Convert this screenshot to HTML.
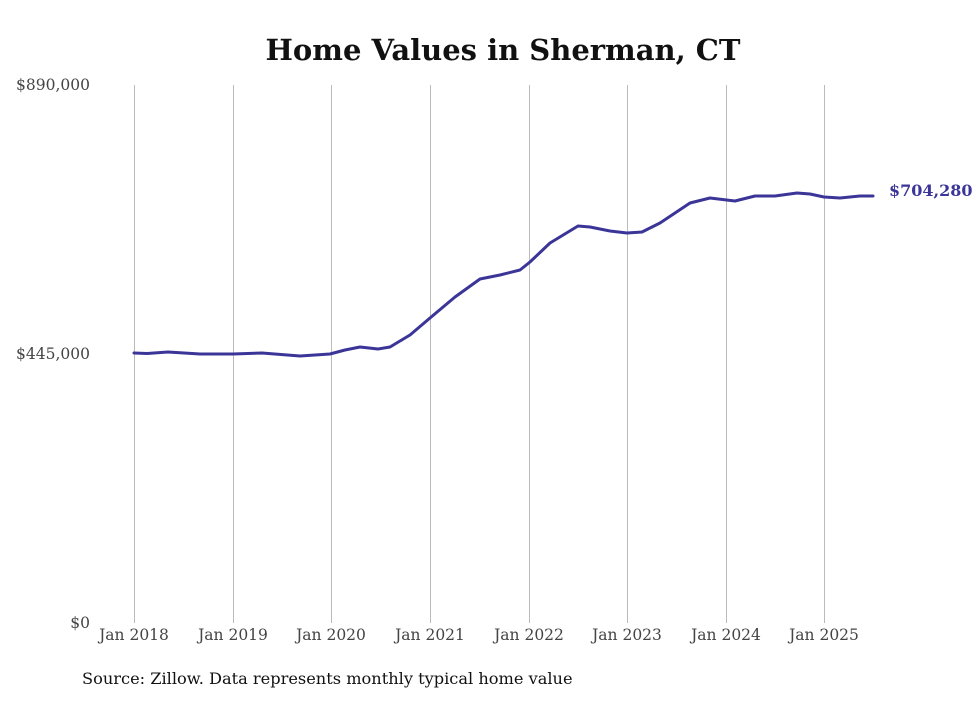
<!DOCTYPE html>
<html><head><meta charset="utf-8"><style>
body{margin:0;background:#fff;}
svg text{font-family:"DejaVu Serif",serif;}
</style></head><body>
<svg width="980" height="699" viewBox="0 0 980 699" xmlns="http://www.w3.org/2000/svg">
<rect width="980" height="699" fill="#fff"/>
<text x="503" y="60" text-anchor="middle" font-size="29" font-weight="bold" fill="#111">Home Values in Sherman, CT</text>
<g stroke="#bbb" stroke-width="1">
<line x1="134.5" y1="85" x2="134.5" y2="623"/>
<line x1="233.5" y1="85" x2="233.5" y2="623"/>
<line x1="331.5" y1="85" x2="331.5" y2="623"/>
<line x1="430.5" y1="85" x2="430.5" y2="623"/>
<line x1="529.5" y1="85" x2="529.5" y2="623"/>
<line x1="627.5" y1="85" x2="627.5" y2="623"/>
<line x1="726.5" y1="85" x2="726.5" y2="623"/>
<line x1="824.5" y1="85" x2="824.5" y2="623"/>
</g>
<g font-size="15.5" fill="#444" text-anchor="end">
<text x="90" y="90">$890,000</text>
<text x="90" y="359">$445,000</text>
<text x="90" y="628">$0</text>
</g>
<g font-size="15.5" fill="#444" text-anchor="middle">
<text x="134" y="640">Jan 2018</text>
<text x="233" y="640">Jan 2019</text>
<text x="331" y="640">Jan 2020</text>
<text x="430" y="640">Jan 2021</text>
<text x="529" y="640">Jan 2022</text>
<text x="627" y="640">Jan 2023</text>
<text x="726" y="640">Jan 2024</text>
<text x="824" y="640">Jan 2025</text>
</g>
<polyline fill="none" stroke="#3b3598" stroke-width="3" stroke-linejoin="round" stroke-linecap="round"
points="134,353 147,353.5 168,352 200,354 233,354 262,353 300,356 330,354 345,350 360,347 378,349 390,347 410,335 430,318 455,297 480,279 500,275 520,270 530,262 550,243 578,226 590,227 610,231 627,233 642,232 660,223 690,203 710,198 735,201 755,196 775,196 797,193 810,194 824,197 840,198 860,196 873,196"/>
<text x="889" y="196" font-size="16" font-weight="bold" fill="#3b3598">$704,280</text>
<text x="82" y="684" font-size="16.2" fill="#111">Source: Zillow. Data represents monthly typical home value</text>
</svg>
</body></html>
